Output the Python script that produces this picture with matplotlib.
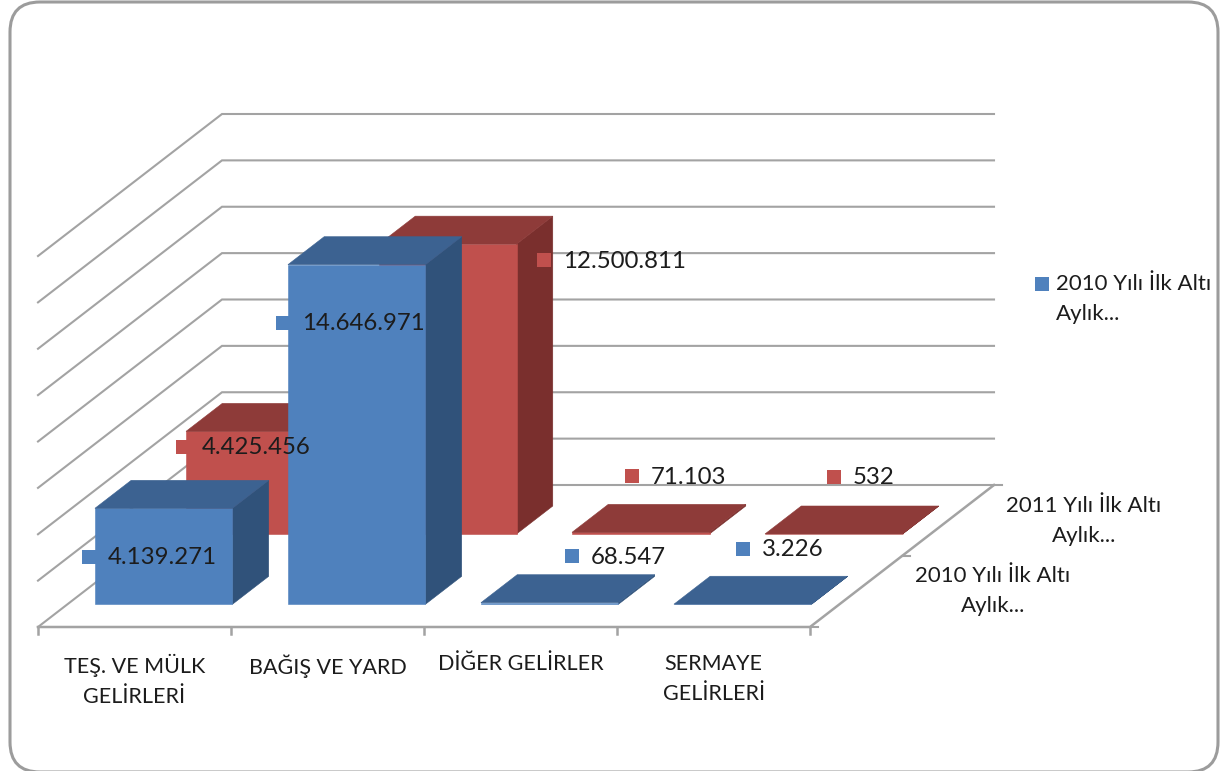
import numpy as np
import matplotlib.pyplot as plt
from matplotlib.patches import FancyBboxPatch, Polygon

plt.rcParams['font.family'] = ['Lato', 'DejaVu Sans']

categories = ['TEŞ. VE MÜLK\nGELİRLERİ', 'BAĞIŞ VE YARD', 'DİĞER GELİRLER', 'SERMAYE\nGELİRLERİ']
series_names = ['2010 Yılı İlk Altı\nAylık...', '2011 Yılı İlk Altı\nAylık...']
values_2010 = [4139271, 14646971, 68547, 3226]
values_2011 = [4425456, 12500811, 71103, 532]
labels_2010 = ['4.139.271', '14.646.971', '68.547', '3.226']
labels_2011 = ['4.425.456', '12.500.811', '71.103', '532']
axis_max = 16000000
axis_step = 2000000

# projection of the fake 3d box, in pixels
x0, y0 = 38, 627
slot = 193
depth_x, depth_y = 184, -142
px_per_unit = 371 / axis_max
bar_w = 137.5
bar_depth = 0.197
gap = 27.5

BLUE = ('#4f81bd', '#3c6291', '#30527a')
RED = ('#c0504d', '#8e3b39', '#7a2f2d')
GRID = '#a3a3a3'
TEXT = '#1c1c1c'
FS = 17.3
FS_AXIS = 15.5

# where excel left the data labels (marker centre)
pos_2010 = [(89, 557), (283, 323), (572, 556), (743, 549)]
pos_2011 = [(183, 447), (544, 260), (632, 476), (834, 477)]


def project(x, t, z=0):
    return x0 + x + depth_x * t, y0 + depth_y * t - z * px_per_unit


def draw_box(ax, i, value, t, colors):
    left = i * slot + gap
    right = left + bar_w
    t2 = t + bar_depth
    front = [project(left, t, 0), project(right, t, 0), project(right, t, value), project(left, t, value)]
    top = [project(left, t, value), project(right, t, value), project(right, t2, value), project(left, t2, value)]
    side = [project(right, t, 0), project(right, t2, 0), project(right, t2, value), project(right, t, value)]
    # top goes last so the nearly flat boxes show only their lid
    for pts, c in zip((side, front, top), (colors[2], colors[0], colors[1])):
        ax.add_patch(Polygon(pts, closed=True, fc=c, ec=c, lw=0.4, zorder=3))


def draw_label(ax, pos, text, color):
    ax.plot(pos[0], pos[1], 's', color=color, ms=9.5, mew=0, zorder=5)
    ax.text(pos[0] + 19, pos[1] + 1, text, fontsize=FS, color=TEXT, va='center', ha='left', zorder=6)


fig = plt.figure(figsize=(12.23, 7.71), dpi=100)
ax = fig.add_axes([0, 0, 1, 1])
ax.set_xlim(0, 1223)
ax.set_ylim(771, 0)
ax.axis('off')

ax.add_patch(FancyBboxPatch((36, 28), 1156, 718, boxstyle='round,pad=26,rounding_size=30',
                            fc='white', ec='#9c9c9c', lw=2.2, zorder=0))

# walls
n_cat = len(categories)
for v in np.arange(0, axis_max + axis_step, axis_step):
    xa, ya = project(0, 0, v)
    xb, yb = project(0, 1, v)
    xc, yc = project(n_cat * slot, 1, v)
    ax.plot([xa, xb, xc], [ya, yb, yc], color=GRID, lw=1.5, zorder=1, solid_joinstyle='miter')

# floor edges and ticks
xa, ya = project(0, 0)
xb, yb = project(n_cat * slot, 0)
xc, yc = project(n_cat * slot, 1)
ax.plot([xa, xb, xc], [ya, yb, yc], color=GRID, lw=1.8, zorder=2)
for i in range(n_cat + 1):
    xt, yt = project(i * slot, 0)
    ax.plot([xt, xt], [yt, yt + 7], color=GRID, lw=1.8, zorder=2)
for t in [0, 0.5, 1]:
    xt, yt = project(n_cat * slot, t)
    ax.plot([xt, xt + 8], [yt, yt], color=GRID, lw=1.5, zorder=2)

# red row sits behind the blue row
for i, v in enumerate(values_2011):
    draw_box(ax, i, v, 0.655, RED)
for i, v in enumerate(values_2010):
    draw_box(ax, i, v, 0.16, BLUE)

for pos, text in zip(pos_2010, labels_2010):
    draw_label(ax, pos, text, BLUE[0])
for pos, text in zip(pos_2011, labels_2011):
    draw_label(ax, pos, text, RED[0])

# category labels
for i, c in enumerate(categories):
    ax.text(x0 + (i + 0.5) * slot, 654, c, fontsize=FS_AXIS, color=TEXT, ha='center', va='top', linespacing=1.6)

# depth axis labels
ax.text(1084, 521, series_names[1], fontsize=16, color=TEXT, ha='center', va='center', linespacing=1.6)
ax.text(993, 591, series_names[0], fontsize=16, color=TEXT, ha='center', va='center', linespacing=1.6)

# legend
ax.plot(1042, 284, 's', color=BLUE[0], ms=9.5, mew=0)
ax.text(1056, 299, series_names[0], fontsize=16, color=TEXT, ha='left', va='center', linespacing=1.6)

fig.savefig('out.png', dpi=100)
